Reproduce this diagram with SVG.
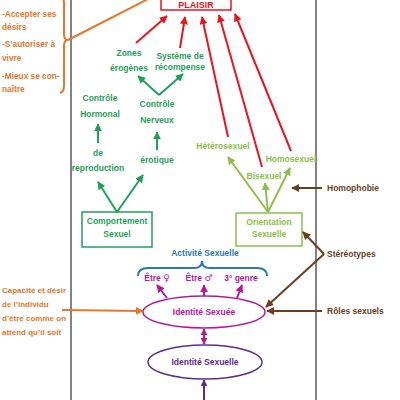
<svg xmlns="http://www.w3.org/2000/svg" width="400" height="400" viewBox="0 0 400 400">
<style>
text{font-family:"Liberation Sans",Arial,sans-serif;font-weight:bold;font-size:8.5px;text-anchor:middle;dominant-baseline:central}
.l{text-anchor:start}
.sym{font-family:"DejaVu Sans",sans-serif;font-weight:normal;font-size:9px}
.or{fill:#E2782C}.dg{fill:#1FA05A}.lg{fill:#8CBE4A}.rd{fill:#E8141E}.bl{fill:#2E75B6}.br{fill:#6B3E1F}.mg{fill:#B4179B}.pu{fill:#5C2D91}
.s{fill:none;stroke-width:2}
</style>
<defs>
<marker id="aR" viewBox="0 0 10 10" refX="9" refY="5" markerWidth="8" markerHeight="8" markerUnits="userSpaceOnUse" orient="auto"><path d="M0 0L10 5L0 10z" fill="#E8141E"/></marker>
<marker id="aG" viewBox="0 0 10 10" refX="9" refY="5" markerWidth="8" markerHeight="8" markerUnits="userSpaceOnUse" orient="auto"><path d="M0 0L10 5L0 10z" fill="#1FA05A"/></marker>
<marker id="aL" viewBox="0 0 10 10" refX="9" refY="5" markerWidth="8" markerHeight="8" markerUnits="userSpaceOnUse" orient="auto"><path d="M0 0L10 5L0 10z" fill="#8CBE4A"/></marker>
<marker id="aB" viewBox="0 0 10 10" refX="9" refY="5" markerWidth="8" markerHeight="8" markerUnits="userSpaceOnUse" orient="auto"><path d="M0 0L10 5L0 10z" fill="#6B3E1F"/></marker>
<marker id="aO" viewBox="0 0 10 10" refX="9" refY="5" markerWidth="8" markerHeight="8" markerUnits="userSpaceOnUse" orient="auto"><path d="M0 0L10 5L0 10z" fill="#E2782C"/></marker>
<marker id="aM" viewBox="0 0 10 10" refX="9" refY="5" markerWidth="8" markerHeight="8" markerUnits="userSpaceOnUse" orient="auto"><path d="M0 0L10 5L0 10z" fill="#B4179B"/></marker>
<marker id="aMs" viewBox="0 0 10 10" refX="9" refY="5" markerWidth="7" markerHeight="7" markerUnits="userSpaceOnUse" orient="auto-start-reverse"><path d="M0 0L10 5L0 10z" fill="#B4179B"/></marker>
<marker id="aP" viewBox="0 0 10 10" refX="9" refY="5" markerWidth="7" markerHeight="7" markerUnits="userSpaceOnUse" orient="auto"><path d="M0 0L10 5L0 10z" fill="#5C2D91"/></marker>
</defs>
<rect width="400" height="400" fill="#fff"/>
<g id="frame" stroke="#404040" stroke-width="1.3">
<line x1="71" y1="0" x2="71" y2="400"/>
<line x1="316" y1="0" x2="316" y2="400"/>
</g>
<g id="plaisir">
<rect x="161" y="-12" width="70" height="22" fill="#fff" stroke="#E8141E" stroke-width="1.5"/>
<text x="196" y="4.5" class="rd" style="font-size:9px">PLAISIR</text>
</g>
<g id="left-notes">
<text class="or l" x="2" y="14" style="font-size:8.3px">-Accepter ses</text>
<text class="or l" x="2" y="27" style="font-size:8.3px">désirs</text>
<text class="or l" x="2" y="44" style="font-size:8.3px">-S’autoriser à</text>
<text class="or l" x="2" y="58" style="font-size:8.3px">vivre</text>
<text class="or l" x="2" y="76" style="font-size:8.3px">-Mieux se con-</text>
<text class="or l" x="2" y="89" style="font-size:8.3px">naître</text>
<path class="s" stroke="#E2782C" stroke-width="1.5" d="M59 -4Q64 -4 64 4L64 34Q64 40 68 40Q64 40 64 46L64 86Q64 92 60 93"/>
</g>
<g id="zones"><text class="dg" x="129" y="53">Zones</text><text class="dg" x="129" y="68">érogènes</text></g>
<g id="systeme"><text class="dg" x="180" y="56">Système de</text><text class="dg" x="180" y="67">récompense</text></g>
<g id="controle-hormonal"><text class="dg" x="100" y="98">Contrôle</text><text class="dg" x="100" y="114">Hormonal</text></g>
<g id="controle-nerveux"><text class="dg" x="157" y="104">Contrôle</text><text class="dg" x="157" y="120">Nerveux</text></g>
<g id="reproduction"><text class="dg" x="98" y="153">de</text><text class="dg" x="98" y="168">reproduction</text></g>
<g id="erotique"><text class="dg" x="157" y="160">érotique</text></g>
<g id="comportement">
<rect x="82" y="212" width="70" height="35" fill="#fff" stroke="#1FA05A" stroke-width="1.5"/>
<text class="dg" x="117" y="221">Comportement</text><text class="dg" x="117" y="234">Sexuel</text>
</g>
<g id="orientation">
<rect x="236" y="213" width="66" height="33" fill="#fff" stroke="#8CBE4A" stroke-width="1.5"/>
<text class="lg" x="269" y="222">Orientation</text><text class="lg" x="269" y="234">Sexuelle</text>
</g>
<g id="hetero"><text class="lg" x="223" y="146">Hétérosexuel</text></g>
<g id="bisexuel"><text class="lg" x="264" y="176">Bisexuel</text></g>
<g id="homosexuel"><text class="lg" x="291" y="159">Homosexuel</text></g>
<g id="homophobie"><text class="br l" x="327" y="188">Homophobie</text></g>
<g id="stereotypes"><text class="br l" x="327" y="254">Stéréotypes</text></g>
<g id="roles"><text class="br l" x="327" y="311">Rôles sexuels</text></g>
<g id="capacite">
<text class="or l" x="2" y="290" style="font-size:8px">Capacité et désir</text>
<text class="or l" x="2" y="304" style="font-size:8px">de l’individu</text>
<text class="or l" x="2" y="318" style="font-size:8px">d’être comme on</text>
<text class="or l" x="2" y="332" style="font-size:8px">attend qu’il soit</text>
</g>
<g id="activite">
<text class="bl" x="205" y="253">Activité Sexuelle</text>
<path class="s" stroke="#2E75B6" stroke-width="1.3" d="M138 276Q138 268 148 268L194 268Q202 268 202 261Q202 268 210 268L257 268Q267 268 267 276"/>
</g>
<g id="etre-f"><text class="mg" x="157" y="278">Être <tspan class="sym">♀</tspan></text></g>
<g id="etre-m"><text class="mg" x="199" y="278">Être <tspan class="sym">♂</tspan></text></g>
<g id="genre3"><text class="mg" x="241" y="278">3° genre</text></g>
<g id="identite-sexuee">
<ellipse cx="204" cy="312" rx="61" ry="16" fill="#fff" stroke="#B4179B" stroke-width="1.5"/>
<text class="mg" x="204" y="312">Identité Sexuée</text>
</g>
<g id="identite-sexuelle">
<ellipse cx="205" cy="362" rx="57" ry="17" fill="#fff" stroke="#5C2D91" stroke-width="1.5"/>
<text class="pu" x="205" y="362">Identité Sexuelle</text>
</g>
<g id="connectors">
<line class="s" stroke="#E2782C" stroke-width="1.5" x1="68" y1="40" x2="150" y2="-2"/>
<g stroke="#E8141E">
<line class="s" x1="136" y1="43" x2="167" y2="16" marker-end="url(#aR)"/>
<line class="s" x1="180" y1="48" x2="185" y2="17" marker-end="url(#aR)"/>
<line class="s" x1="228" y1="137" x2="202" y2="17" marker-end="url(#aR)"/>
<line class="s" x1="262" y1="167" x2="219" y2="15" marker-end="url(#aR)"/>
<line class="s" x1="291" y1="151" x2="235" y2="14" marker-end="url(#aR)"/>
</g>
<g stroke="#1FA05A">
<line class="s" x1="159" y1="95" x2="138" y2="76" marker-end="url(#aG)"/>
<line class="s" x1="159" y1="95" x2="183" y2="74" marker-end="url(#aG)"/>
<line class="s" x1="98" y1="143" x2="98" y2="124" marker-end="url(#aG)"/>
<line class="s" x1="157" y1="150" x2="157" y2="132" marker-end="url(#aG)"/>
<line class="s" x1="117" y1="212" x2="98" y2="182" marker-end="url(#aG)"/>
<line class="s" x1="117" y1="212" x2="143" y2="175" marker-end="url(#aG)"/>
</g>
<g stroke="#8CBE4A">
<line class="s" x1="268" y1="212" x2="228" y2="157" marker-end="url(#aL)"/>
<line class="s" x1="268" y1="212" x2="265" y2="183" marker-end="url(#aL)"/>
<line class="s" x1="268" y1="212" x2="290" y2="168" marker-end="url(#aL)"/>
</g>
<g stroke="#6B3E1F">
<line class="s" x1="322" y1="188" x2="292" y2="188" marker-end="url(#aB)"/>
<line class="s" x1="324" y1="254" x2="303" y2="232" marker-end="url(#aB)"/>
<line class="s" x1="324" y1="254" x2="266" y2="307" marker-end="url(#aB)"/>
<line class="s" x1="322" y1="311" x2="267" y2="311" marker-end="url(#aB)"/>
</g>
<line class="s" stroke="#E2782C" x1="62" y1="310" x2="143" y2="311" marker-end="url(#aO)"/>
<g stroke="#B4179B">
<line class="s" x1="167" y1="298" x2="157" y2="285" marker-end="url(#aM)"/>
<line class="s" x1="204" y1="296" x2="204" y2="285" marker-end="url(#aM)"/>
<line class="s" x1="237" y1="298" x2="242" y2="285" marker-end="url(#aM)"/>
<line class="s" x1="204" y1="329" x2="204" y2="344" marker-start="url(#aMs)" marker-end="url(#aMs)"/>
</g>
<line class="s" stroke="#5C2D91" stroke-width="1.3" x1="204" y1="402" x2="204" y2="380" marker-end="url(#aP)"/>
</g>
</svg>
